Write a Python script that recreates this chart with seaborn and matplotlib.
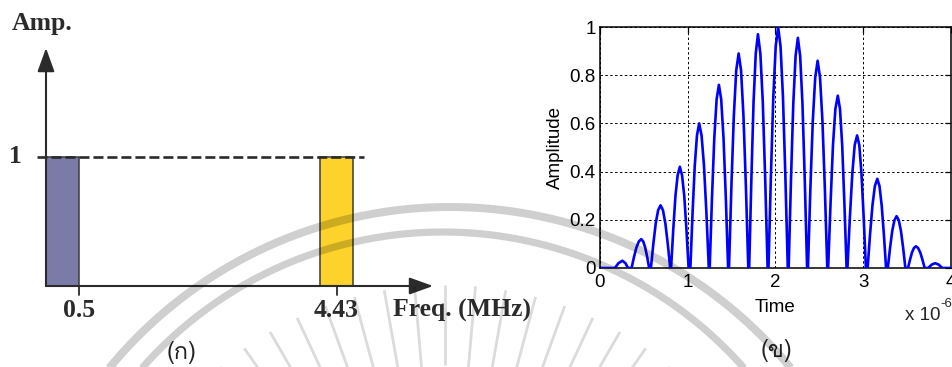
import numpy as np
import pandas as pd
import matplotlib
matplotlib.use("Agg")
import matplotlib.pyplot as plt
from matplotlib import font_manager
from matplotlib.ft2font import FT2Font
import seaborn as sns

# ---------------- data ----------------
# (ก) spectrum: two bands of unit amplitude
band_labels = ["0.5", "4.43"]
band_center_mhz = [0.25, 4.43]
band_width_mhz = 0.5
band_amp = [1.0, 1.0]
band_colors = ["#7b7ba7", "#fcd22b"]
tick_mhz = [0.5, 4.43]
tick_labels = ["0.5", "4.43"]

# (ข) time-domain waveform, vertices of the sampled curve (time in microseconds),
# one row per lobe
time_us = [
    0.00, 0.17, 0.21, 0.255, 0.29, 0.32,
    0.36, 0.3875, 0.415, 0.4425, 0.47, 0.4925, 0.515, 0.5375, 0.56,
    0.58, 0.6075, 0.635, 0.6625, 0.69, 0.7175, 0.745, 0.7725, 0.80,
    0.81, 0.835, 0.86, 0.885, 0.91, 0.935, 0.96, 0.985, 1.01,
    1.03, 1.055, 1.08, 1.105, 1.13, 1.1575, 1.185, 1.2125, 1.24,
    1.25, 1.276, 1.3025, 1.329, 1.355, 1.381, 1.4075, 1.434, 1.46,
    1.47, 1.4975, 1.525, 1.5525, 1.58, 1.6075, 1.635, 1.6625, 1.69,
    1.70, 1.725, 1.75, 1.775, 1.80, 1.8275, 1.855, 1.8825, 1.91,
    1.92, 1.9475, 1.975, 2.0025, 2.03, 2.0575, 2.085, 2.1125, 2.14,
    2.15, 2.176, 2.2025, 2.229, 2.255, 2.281, 2.3075, 2.334, 2.36,
    2.37, 2.3975, 2.425, 2.4525, 2.48, 2.5075, 2.535, 2.5625, 2.59,
    2.60, 2.6275, 2.655, 2.6825, 2.71, 2.735, 2.76, 2.785, 2.81,
    2.82, 2.8475, 2.875, 2.9025, 2.93, 2.955, 2.98, 3.005, 3.03,
    3.05, 3.0775, 3.105, 3.1325, 3.16, 3.185, 3.21, 3.235, 3.26,
    3.28, 3.305, 3.33, 3.355, 3.38, 3.405, 3.43, 3.455, 3.48,
    3.51, 3.5325, 3.555, 3.5775, 3.60, 3.625, 3.65, 3.675, 3.70,
    3.74, 3.78, 3.82, 3.86, 3.90, 4.00,
]
amplitude = [
    0, 0, 0.02, 0.03, 0.02, 0,
    0, 0.046, 0.085, 0.11, 0.12, 0.11, 0.085, 0.046, 0,
    0, 0.099, 0.185, 0.24, 0.26, 0.24, 0.185, 0.099, 0,
    0, 0.16, 0.30, 0.385, 0.42, 0.385, 0.30, 0.16, 0,
    0, 0.23, 0.425, 0.55, 0.60, 0.55, 0.425, 0.23, 0,
    0, 0.29, 0.54, 0.70, 0.76, 0.70, 0.54, 0.29, 0,
    0, 0.34, 0.63, 0.82, 0.89, 0.82, 0.63, 0.34, 0,
    0, 0.37, 0.69, 0.89, 0.97, 0.89, 0.69, 0.37, 0,
    0, 0.38, 0.71, 0.92, 1.00, 0.92, 0.71, 0.38, 0,
    0, 0.36, 0.68, 0.88, 0.955, 0.88, 0.68, 0.36, 0,
    0, 0.33, 0.61, 0.79, 0.86, 0.79, 0.61, 0.33, 0,
    0, 0.27, 0.51, 0.66, 0.715, 0.66, 0.51, 0.27, 0,
    0, 0.21, 0.39, 0.51, 0.55, 0.51, 0.39, 0.21, 0,
    0, 0.14, 0.26, 0.34, 0.37, 0.34, 0.26, 0.14, 0,
    0, 0.082, 0.153, 0.198, 0.215, 0.198, 0.153, 0.082, 0,
    0, 0.034, 0.064, 0.083, 0.09, 0.083, 0.064, 0.034, 0,
    0, 0.014, 0.02, 0.014, 0, 0,
]
time_ticks = [0, 1, 2, 3, 4]
amp_ticks = [0, 0.2, 0.4, 0.6, 0.8, 1]
amp_tick_labels = ["0", "0.2", "0.4", "0.6", "0.8", "1"]

# ---------------- style ----------------
sns.set_theme(style="white")
plt.rcParams["font.family"] = ["Liberation Sans", "DejaVu Sans"]


def thai_family():
    """Return the name of an installed font that has Thai glyphs, if any."""
    seen = set()
    for f in font_manager.fontManager.ttflist:
        if f.name in seen:
            continue
        seen.add(f.name)
        try:
            if 0x0E01 in FT2Font(f.fname).get_charmap():
                return f.name
        except Exception:
            pass
    return "DejaVu Sans"


THAI = thai_family()
W, H = 953, 367
fig = plt.figure(figsize=(W / 100, H / 100), dpi=100)


def fx(px):
    return px / W


def fy(py):
    return 1 - py / H


# ---------------- (ก) spectrum sketch ----------------
# pixel mapping: x_px = 46 + 65.6 * MHz ; y_px = 286 - 129 * amp
X0, SX = 46.0, 65.6
Y0, SY = 286.0, 129.0
left_w = 500
axL = fig.add_axes([0, 0, left_w / W, 1])

df_bands = pd.DataFrame({"freq": band_center_mhz, "amp": band_amp, "band": band_labels})
sns.barplot(data=df_bands, x="freq", y="amp", hue="band", palette=band_colors,
            native_scale=True, dodge=False, legend=False,
            width=band_width_mhz / (band_center_mhz[1] - band_center_mhz[0]),
            edgecolor="#3a3a3a", linewidth=1.1, saturation=1, ax=axL, zorder=2)
axL.set_xlim(-X0 / SX, (left_w - X0) / SX)
axL.set_ylim((Y0 - H) / SY, Y0 / SY)
axL.axis("off")

ink = "#2b2b2b"
arrow = dict(arrowstyle="-|>,head_length=1.0,head_width=0.36", color=ink,
             lw=1.5, mutation_scale=14.5, shrinkA=0, shrinkB=0)
axL.annotate("", xy=(5.9, 0), xytext=(0, 0), arrowprops=arrow, zorder=3)
axL.annotate("", xy=(0, 1.845), xytext=(0, 0), arrowprops=arrow, zorder=3)
axL.plot([-0.14, 4.85], [1, 1], color=ink, lw=1.9, linestyle=(0, (3.8, 1.5)),
         dash_capstyle="butt", zorder=4)
for t in tick_mhz:
    axL.plot([t, t], [0, -0.07], color=ink, lw=1.3, zorder=3)

serif = dict(family="Liberation Serif", weight="bold", color=ink, fontsize=18.5)
for t, lab in zip(tick_mhz, tick_labels):
    axL.text(t, -0.19, lab, ha="center", va="center", **serif)
fig.text(fx(15.5), fy(156), "1", ha="center", va="center", **serif)
fig.text(fx(12), fy(30), "Amp.", ha="left", va="baseline", **serif)
fig.text(fx(393), fy(310), "Freq. (MHz)", ha="left", va="center", **serif)
fig.text(fx(182), fy(352), "(ก)", ha="center", va="center", fontsize=17,
         family=[THAI, "DejaVu Sans"], color="#222222")

# ---------------- (ข) waveform ----------------
axR = fig.add_axes([fx(600), fy(268), fx(351), 241 / H])
df_wave = pd.DataFrame({"time": time_us, "amp": amplitude})
sns.lineplot(data=df_wave, x="time", y="amp", color="#0000ff", lw=1.9,
             estimator=None, sort=False, ax=axR, zorder=3)
axR.set_xlim(0, 4)
axR.set_ylim(0, 1)
axR.set_xticks(time_ticks)
axR.set_xticklabels([str(t) for t in time_ticks])
axR.set_yticks(amp_ticks)
axR.set_yticklabels(amp_tick_labels)
axR.grid(True, color="black", lw=0.7, linestyle=(0, (2.5, 2.5)))
axR.set_axisbelow(True)
axR.tick_params(direction="in", length=4, width=0.9, top=True, right=True,
                labelsize=13.5, colors="black", pad=4)
axR.tick_params(axis="y", pad=3)
for s in axR.spines.values():
    s.set_visible(True)
    s.set_color("black")
    s.set_linewidth(1.1)
axR.set_xlabel("Time", fontsize=13.5, labelpad=6, color="black")
axR.set_ylabel("Amplitude", fontsize=13.5, labelpad=4, color="black")
fig.text(fx(905), fy(320), "x 10", fontsize=13.5, ha="left", va="baseline")
fig.text(fx(940), fy(307), "-6", fontsize=9.5, ha="left", va="baseline")
fig.text(fx(777), fy(350), "(ข)", ha="center", va="center", fontsize=17,
         family=[THAI, "DejaVu Sans"], color="#222222")

# ---------------- faint emblem in the background ----------------
axW = fig.add_axes([0, 0, 1, 1], zorder=10)
axW.set_xlim(0, W)
axW.set_ylim(H, 0)
axW.axis("off")
axW.patch.set_alpha(0)
for cx, cy, r, lw in [(450, 648, 441, 5.8), (443, 633, 401, 5.2)]:
    th = np.linspace(np.pi * 1.05, np.pi * 1.95, 300)
    axW.plot(cx + r * np.cos(th), cy + r * np.sin(th), lw=lw, color="black",
             alpha=0.19, solid_capstyle="butt")
for ang in np.arange(-40, 41, 5):
    a = np.deg2rad(ang - 90)
    r0 = 250 if ang % 10 else 270
    axW.plot([445 + r0 * np.cos(a), 445 + 350 * np.cos(a)],
             [635 + r0 * np.sin(a), 635 + 350 * np.sin(a)], lw=2.0,
             color="black", alpha=0.14, solid_capstyle="butt")

fig.savefig("out.png", dpi=100)
